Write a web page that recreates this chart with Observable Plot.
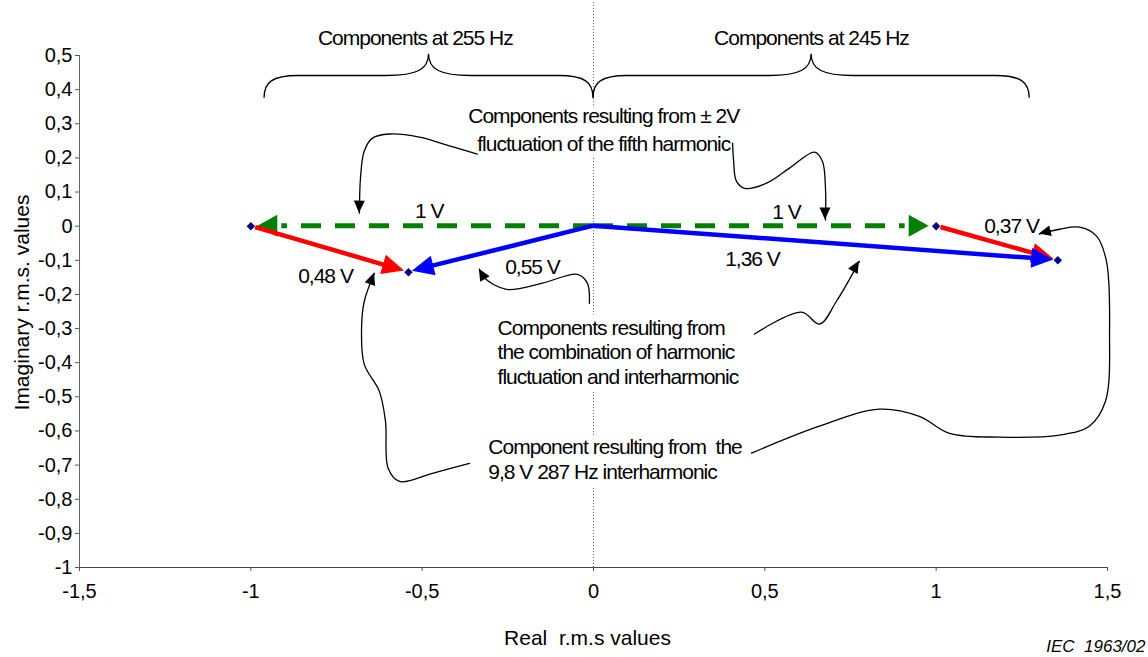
<!DOCTYPE html>
<html><head><meta charset="utf-8">
<script src="https://cdn.jsdelivr.net/npm/d3@7"></script>
<script src="https://cdn.jsdelivr.net/npm/@observablehq/plot@0.6"></script>
<style>
html,body{margin:0;padding:0;background:#fff;}
#chart svg{display:block;}
#chart g[aria-label="text"] text{letter-spacing:-1px;}
</style></head><body><div id="chart"></div>
<script>
// ---- axes ----
const xTicks = [-1.5, -1, -0.5, 0, 0.5, 1, 1.5];
const yTicks = [0.5, 0.4, 0.3, 0.2, 0.1, 0, -0.1, -0.2, -0.3, -0.4, -0.5, -0.6, -0.7, -0.8, -0.9, -1];
const xTitle = "Real\u00a0 r.m.s values";
const yTitle = "Imaginary r.m.s. values";
const caption = "IEC\u00a0 1963/02";

// ---- phasor vectors ----
const vecName   = ["1 V (255 Hz)", "1 V (245 Hz)", "0,48 V", "0,37 V", "0,55 V", "1,36 V"];
const vecKind   = ["fluctuation", "fluctuation", "interharmonic", "interharmonic", "combination", "combination"];
const vecFromRe = [0, 0, -1, 1, 0, 0];
const vecFromIm = [0, 0, 0, 0, 0, 0];
const vecToRe   = [-1, 1, -0.54, 1.355, -0.54, 1.355];
const vecToIm   = [0, 0, -0.135, -0.1, -0.135, -0.1];

// ---- end points (diamonds) ----
const pointRe = [-1, -0.54, 1, 1.355];
const pointIm = [0, -0.135, 0, -0.1];

// ---- vector labels ----
const voltText = ["1 V", "1 V", "0,48 V", "0,55 V", "1,36 V", "0,37 V"];
const voltRe   = [-0.479, 0.563, -0.782, -0.178, 0.464, 1.22];
const voltIm   = [0.023, 0.02, -0.167, -0.141, -0.117, -0.02];

// ---- braces ----
const braceText   = ["Components at 255 Hz", "Components at 245 Hz"];
const braceFromRe = [-0.96, 0];
const braceToRe   = [0, 1.273];
const braceLabelRe = [-0.52, 0.636];
const braceEndIm = 0.375, braceMidIm = 0.44, braceTipIm = 0.504, braceLabelIm = 0.531;

// ---- notes ----
const noteText = [
  "Components resulting from ± 2V\nfluctuation of the fifth harmonic",
  "Components resulting from\nthe combination of harmonic\nfluctuation and interharmonic",
  "Component resulting from  the\n9,8 V 287 Hz interharmonic"
];
const noteRe = [0.03, -0.280, -0.307];
const noteIm = [0.359, -0.267, -0.616];
const noteAnchor = ["middle", "start", "start"];
const noteLineHeight = [1.33, 1.17, 1.19];

// ---- curved leader arrows (re, im) ----
const leaderFluctLeft = [[-0.339,0.211],[-0.420,0.235],[-0.508,0.261],[-0.596,0.270],[-0.645,0.258],[-0.669,0.220],[-0.680,0.141],[-0.683,0.038]];
const leaderFluctRight = [[0.406,0.243],[0.409,0.190],[0.417,0.132],[0.441,0.111],[0.505,0.126],[0.572,0.170],[0.645,0.217],[0.668,0.190],[0.677,0.111],[0.677,0.018]];
const leader055 = [[-0.012,-0.226],[-0.018,-0.167],[-0.047,-0.141],[-0.149,-0.167],[-0.254,-0.185],[-0.318,-0.152],[-0.333,-0.126]];
const leader136 = [[0.470,-0.316],[0.607,-0.252],[0.660,-0.287],[0.709,-0.220],[0.776,-0.103]];
const leader037 = [[0.461,-0.665],[0.659,-0.586],[0.835,-0.536],[0.951,-0.557],[1.039,-0.607],[1.185,-0.618],[1.360,-0.612],[1.447,-0.586],[1.494,-0.513],[1.506,-0.308],[1.497,-0.103],[1.468,-0.029],[1.418,-0.003],[1.360,-0.009],[1.301,-0.023]];
const leader048 = [[-0.362,-0.695],[-0.470,-0.724],[-0.566,-0.748],[-0.599,-0.710],[-0.607,-0.572],[-0.625,-0.484],[-0.669,-0.405],[-0.677,-0.308],[-0.669,-0.220],[-0.639,-0.138]];
const leaders = [leaderFluctLeft, leaderFluctRight, leader055, leader136, leader037, leader048];

const kindColor = {fluctuation: "#008000", interharmonic: "#ff0000", combination: "#0000ff"};
const fmt = v => String(v).replace(".", ",");

// tables
const points = pointRe.map((re, i) => ({re, im: pointIm[i]}));
const volts = voltText.map((t, i) => ({t, re: voltRe[i], im: voltIm[i]}));
const braceLabels = braceText.map((t, i) => ({t, re: braceLabelRe[i], im: braceLabelIm}));
const leaderRows = leaders.flatMap((pts, k) => pts.map(([re, im]) => ({k, re, im})));

const svg = Plot.plot({
  width: 1148, height: 657,
  marginLeft: 79, marginRight: 41, marginTop: 55, marginBottom: 90,
  x: {domain: [-1.5, 1.5]},
  y: {domain: [-1, 0.5]},
  style: {fontFamily: "'Liberation Sans', Arial, sans-serif", fontSize: "20px", color: "#000", background: "#fff"},
  marks: [
    Plot.ruleX([0], {y1: 0.655, y2: -1, stroke: "#555", strokeDasharray: "1,2", strokeWidth: 1}),
    Plot.ruleX([-1.5], {stroke: "#666"}),
    Plot.ruleY([-1], {stroke: "#444"}),
    Plot.axisX({ticks: xTicks, tickFormat: fmt, tickSize: 4, tickPadding: 12, label: null, stroke: "#555", fontSize: 20}),
    Plot.axisY({ticks: yTicks, tickFormat: fmt, tickSize: 4, tickPadding: 3, label: null, stroke: "#555", fontSize: 20}),
    ...noteText.map((t, i) => Plot.text([t], {
      x: noteRe[i], y: noteIm[i], text: d => d, textAnchor: noteAnchor[i], lineAnchor: "top",
      lineHeight: noteLineHeight[i], fontSize: 21, stroke: "white", strokeWidth: 14, fill: "black"
    })),
    Plot.line(leaderRows, {x: "re", y: "im", z: "k", curve: "catmull-rom", stroke: "black", strokeWidth: 1.3}),
    Plot.text(volts, {x: "re", y: "im", text: "t", lineAnchor: "bottom", fontSize: 21}),
    Plot.text(braceLabels, {x: "re", y: "im", text: "t", lineAnchor: "bottom", fontSize: 21}),
    Plot.text([xTitle], {frameAnchor: "bottom", textAnchor: "middle", dx: -6, dy: 77, lineAnchor: "bottom", fontSize: 21}),
    Plot.text([yTitle], {frameAnchor: "left", textAnchor: "middle", rotate: -90, dx: -51, dy: -9, lineAnchor: "bottom", fontSize: 21}),
    Plot.text([caption], {frameAnchor: "bottom-right", dx: 38, dy: 84, textAnchor: "end", lineAnchor: "bottom", fontSize: 17, fontStyle: "italic"}),
    Plot.dot(points, {x: "re", y: "im", symbol: "diamond2", r: 3.8, fill: "#000080", stroke: "none"})
  ]
});

const X = v => svg.scale("x").apply(v);
const Y = v => svg.scale("y").apply(v);
const root = d3.select(svg);
root.selectAll("text").filter(function() {
  const t = this.textContent; return t === xTitle || t === yTitle || t === caption;
}).style("letter-spacing", "0px");

// braces
const gB = root.append("g").attr("fill", "none").attr("stroke", "black").attr("stroke-width", 1.3);
braceText.forEach((_, i) => {
  const xa = X(braceFromRe[i]), xb = X(braceToRe[i]), xm = (xa + xb) / 2;
  const yE = Y(braceEndIm), yM = Y(braceMidIm), yT = Y(braceTipIm);
  gB.append("path").attr("d",
    `M${xa},${yE} C${xa},${yM+7} ${xa+8},${yM} ${xa+34},${yM} L${xm-42},${yM} C${xm-12},${yM} ${xm},${yM-6} ${xm},${yT} ` +
    `C${xm},${yM-6} ${xm+12},${yM} ${xm+42},${yM} L${xb-34},${yM} C${xb-8},${yM} ${xb},${yM+7} ${xb},${yE}`);
});

// vectors with filled heads
const gV = root.insert("g", 'g[aria-label="dot"]');
[0, 1, 2, 3, 4, 5].forEach(i => {
  const kind = vecKind[i], color = kindColor[kind];
  const x1 = X(vecFromRe[i]), y1 = Y(vecFromIm[i]), x2 = X(vecToRe[i]), y2 = Y(vecToIm[i]);
  const L = Math.hypot(x2 - x1, y2 - y1), ux = (x2 - x1) / L, uy = (y2 - y1) / L;
  const startInset = vecFromRe[i] === 0 ? 0 : 5;
  const tipInset = kind === "fluctuation" ? 7 : 4;
  const headLen = kind === "fluctuation" ? 20 : 22, headHalf = kind === "fluctuation" ? 11 : 10;
  const tx = x2 - ux * tipInset, ty = y2 - uy * tipInset;
  const bx = tx - ux * headLen, by = ty - uy * headLen;
  const line = gV.append("line")
    .attr("x1", x1 + ux * startInset).attr("y1", y1 + uy * startInset)
    .attr("x2", bx + ux * (kind === "fluctuation" ? -4 : 3)).attr("y2", by + uy * (kind === "fluctuation" ? -4 : 3))
    .attr("stroke", color).attr("stroke-width", kind === "fluctuation" ? 5 : 4.5);
  if (kind === "fluctuation") line.attr("stroke-dasharray", "20,14");
  gV.append("path")
    .attr("d", `M${tx},${ty} L${bx - uy * headHalf},${by + ux * headHalf} L${bx + uy * headHalf},${by - ux * headHalf} Z`)
    .attr("fill", color);
});

// leader heads
const gH = root.append("g").attr("fill", "black");
leaders.forEach(pts => {
  const [a, b] = pts.slice(-2);
  const x1 = X(a[0]), y1 = Y(a[1]), x2 = X(b[0]), y2 = Y(b[1]);
  const L = Math.hypot(x2 - x1, y2 - y1), ux = (x2 - x1) / L, uy = (y2 - y1) / L;
  const bx = x2 - ux * 12, by = y2 - uy * 12, h = 5.5;
  gH.append("path").attr("d", `M${x2},${y2} L${bx - uy * h},${by + ux * h} L${bx + uy * h},${by - ux * h} Z`);
});

document.getElementById("chart").append(svg);
</script></body></html>
